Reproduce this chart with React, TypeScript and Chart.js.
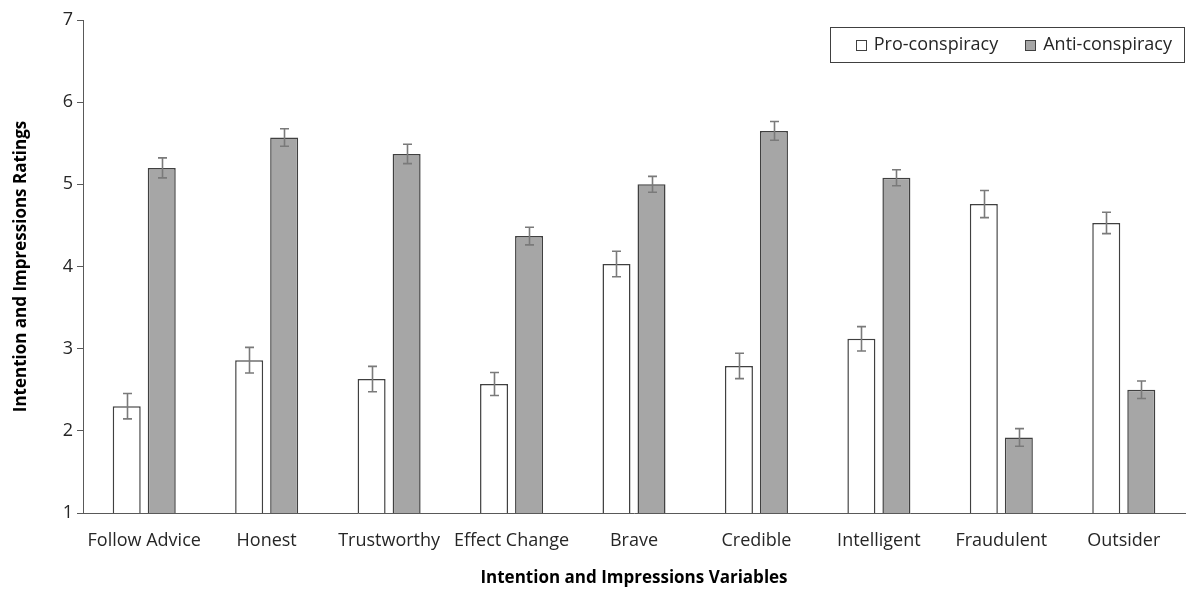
import React, { useEffect, useRef } from "react";
import { Chart, registerables } from "chart.js";

Chart.register(...registerables);

const categories = [
  "Follow Advice",
  "Honest",
  "Trustworthy",
  "Effect Change",
  "Brave",
  "Credible",
  "Intelligent",
  "Fraudulent",
  "Outsider",
];
const proValues = [2.3, 2.86, 2.63, 2.57, 4.03, 2.79, 3.12, 4.76, 4.53];
const proErrors = [0.155, 0.156, 0.155, 0.14, 0.155, 0.155, 0.148, 0.165, 0.13];
const antiValues = [5.2, 5.57, 5.37, 4.37, 5.0, 5.65, 5.08, 1.92, 2.5];
const antiErrors = [0.122, 0.106, 0.118, 0.107, 0.097, 0.114, 0.097, 0.107, 0.107];
const seriesLabels = ["Pro-conspiracy", "Anti-conspiracy"];
const yTicks = [1, 2, 3, 4, 5, 6, 7];

const FONT = "'Open Sans', 'Noto Sans', sans-serif";
const BORDER = "#404040";
const ERR_COLOR = "#7a7a7a";

const errorBarPlugin = {
  id: "errorBars",
  afterDatasetsDraw(chart: any) {
    const ctx = chart.ctx;
    const yScale = chart.scales.y;
    chart.data.datasets.forEach((ds: any, di: number) => {
      const meta = chart.getDatasetMeta(di);
      const errs: number[] = ds.errors || [];
      meta.data.forEach((bar: any, i: number) => {
        const v = ds.data[i];
        const e = errs[i];
        if (e == null) return;
        const x = Math.round(bar.x) + 0.5;
        const yTop = yScale.getPixelForValue(v + e);
        const yBot = yScale.getPixelForValue(v - e);
        const cap = 4.5;
        ctx.save();
        ctx.strokeStyle = ERR_COLOR;
        ctx.lineWidth = 1.6;
        ctx.beginPath();
        ctx.moveTo(x, yTop);
        ctx.lineTo(x, yBot);
        ctx.moveTo(x - cap, yTop);
        ctx.lineTo(x + cap, yTop);
        ctx.moveTo(x - cap, yBot);
        ctx.lineTo(x + cap, yBot);
        ctx.stroke();
        ctx.restore();
      });
    });
  },
};

const boxedLegendPlugin = {
  id: "boxedLegend",
  afterDraw(chart: any) {
    const ctx = chart.ctx;
    const area = chart.chartArea;
    const boxRight = area.right - 1;
    const boxTop = area.top + 7;
    const boxH = 35;
    const sq = 10;
    const gapSqText = 8;
    const itemGap = 27;
    const padL = 26;
    const padR = 12;
    ctx.save();
    ctx.font = `18px ${FONT}`;
    const items = chart.data.datasets.map((ds: any) => ({
      label: ds.label,
      fill: ds.backgroundColor,
      w: ctx.measureText(ds.label).width,
    }));
    let total = padL + padR;
    items.forEach((it: any, i: number) => {
      total += sq + gapSqText + it.w + (i < items.length - 1 ? itemGap : 0);
    });
    const boxLeft = boxRight - total;
    ctx.fillStyle = "#ffffff";
    ctx.fillRect(boxLeft, boxTop, total, boxH);
    ctx.strokeStyle = "#404040";
    ctx.lineWidth = 1;
    ctx.strokeRect(Math.round(boxLeft) + 0.5, boxTop + 0.5, Math.round(total), boxH);
    let x = boxLeft + padL;
    const cy = boxTop + boxH / 2;
    items.forEach((it: any) => {
      const sx = Math.round(x) + 0.5;
      const sy = Math.round(cy - sq / 2) + 0.5;
      ctx.fillStyle = it.fill;
      ctx.fillRect(sx, sy, sq, sq);
      ctx.strokeStyle = "#404040";
      ctx.strokeRect(sx, sy, sq, sq);
      x += sq + gapSqText;
      ctx.fillStyle = "#262626";
      ctx.textBaseline = "middle";
      ctx.textAlign = "left";
      ctx.fillText(it.label, x, cy);
      x += it.w + itemGap;
    });
    ctx.restore();
  },
};

export default function App() {
  const canvasRef = useRef<HTMLCanvasElement | null>(null);

  useEffect(() => {
    document.body.style.margin = "0";
    const canvas = canvasRef.current;
    if (!canvas) return;
    const chart = new Chart(canvas, {
      type: "bar",
      data: {
        labels: categories,
        datasets: [
          {
            label: seriesLabels[0],
            data: proValues,
            errors: proErrors,
            backgroundColor: "#ffffff",
            borderColor: BORDER,
            borderWidth: 1.5,
            categoryPercentage: 0.572,
            barPercentage: 0.8,
          } as any,
          {
            label: seriesLabels[1],
            data: antiValues,
            errors: antiErrors,
            backgroundColor: "#a6a6a6",
            borderColor: BORDER,
            borderWidth: 1.5,
            categoryPercentage: 0.572,
            barPercentage: 0.8,
          } as any,
        ],
      },
      options: {
        animation: false,
        responsive: false,
        maintainAspectRatio: false,
        layout: { padding: { top: 20, right: 10, left: 0, bottom: 0 } },
        plugins: {
          legend: { display: false },
          tooltip: { enabled: false },
        },
        scales: {
          x: {
            grid: { display: false, drawTicks: false },
            border: { display: true, color: "#595959", width: 1 },
            ticks: {
              font: { family: FONT, size: 18 },
              color: "#262626",
              padding: 17,
              maxRotation: 0,
              autoSkip: false,
            },
            title: {
              display: true,
              text: "Intention and Impressions Variables",
              font: { family: FONT, size: 17, weight: "bold" },
              color: "#000000",
              padding: { top: 0, bottom: 6 },
            },
            afterFit(scale: any) {
              scale.height = 81;
            },
          },
          y: {
            min: 1,
            max: 7,
            afterBuildTicks(scale: any) {
              scale.ticks = yTicks.map((v) => ({ value: v }));
            },
            grid: {
              display: true,
              drawOnChartArea: false,
              drawTicks: true,
              tickLength: 6,
              color: "#595959",
            },
            border: { display: true, color: "#595959", width: 1 },
            ticks: {
              font: { family: FONT, size: 18 },
              color: "#262626",
              padding: 4,
            },
            title: {
              display: true,
              text: "Intention and Impressions Ratings",
              font: { family: FONT, size: 17, weight: "bold" },
              color: "#000000",
              padding: { top: 11, bottom: 0 },
            },
            afterFit(scale: any) {
              scale.width = 83;
            },
          },
        },
      } as any,
      plugins: [errorBarPlugin, boxedLegendPlugin],
    });
    return () => chart.destroy();
  }, []);

  return (
    <div style={{ width: 1195, height: 594, background: "#ffffff" }}>
      <canvas ref={canvasRef} width={1195} height={594} style={{ display: "block" }} />
    </div>
  );
}
